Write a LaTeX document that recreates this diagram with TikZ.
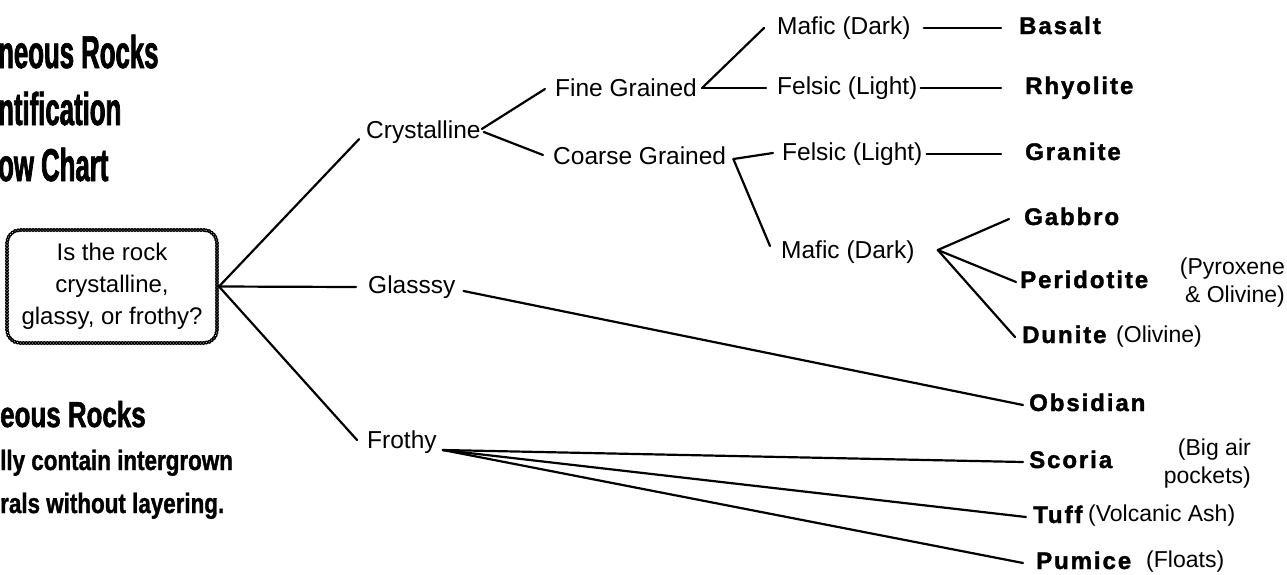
\documentclass[tikz,border=0pt]{standalone}
\usepackage{fontspec}
\setmainfont{Liberation Sans}
\newfontfamily\rockfont[LetterSpace=8,FakeBold=1.6]{Liberation Sans}
\newfontfamily\titlefont[FakeStretch=0.56,FakeBold=1.5]{Liberation Sans}
\newfontfamily\headfont[FakeStretch=0.72,FakeBold=1.5]{Liberation Sans}
\newfontfamily\bodyfont[FakeStretch=0.8,FakeBold=1.2]{Liberation Sans}
\usetikzlibrary{calc}
\tikzset{
  lab/.style={inner sep=0pt, anchor=west, font=\fontsize{24.5}{28}\selectfont, text height=17pt, text depth=5pt},
  rock/.style={inner sep=0pt, anchor=west, font=\rockfont\bfseries\fontsize{24}{28}\selectfont, text height=17pt, text depth=5pt},
  note/.style={inner sep=0pt, font=\fontsize{23}{28}\selectfont},
  conn/.style={line width=2.2pt, line cap=round},
  title/.style={inner sep=0pt, anchor=base west, font=\titlefont\bfseries\fontsize{46}{50}\selectfont},
  head/.style={inner sep=0pt, anchor=base west, font=\headfont\bfseries\fontsize{36}{40}\selectfont},
  body/.style={inner sep=0pt, anchor=base west, font=\bodyfont\bfseries\fontsize{28}{32}\selectfont},
  qbox/.style={draw, rounded corners=13pt, line width=4pt, dash pattern=on 0pt off 3pt, line cap=round,
    postaction={draw=white, line width=1pt, dash pattern=on 0pt off 3pt, line cap=round, rounded corners=13pt},
    inner sep=0pt, minimum width=210pt, minimum height=113pt, align=center,
    font=\fontsize{24}{32}\selectfont}
}
\begin{document}
\begin{tikzpicture}[x=1pt,y=-1pt]
\fill[white] (0,0) rectangle (1287,574);
\useasboundingbox (0,0) rectangle (1287,574);

% left texts
\node[title] (t1) at (-2,68) {neous Rocks};
\node[title] (t2) at (-2,125) {ntification};
\node[title] (t3) at (-2,181) {ow Chart};
\node[head] (h1) at (0,427) {eous Rocks};
\node[body] (b1) at (0,470) {lly contain intergrown};
\node[body] (b2) at (0,513) {rals without layering.};

% question box
\node[qbox] (q) at (112,286.5) {Is the rock\\crystalline,\\glassy, or frothy?};

% level 1
\node[lab] (cry) at (366,132) {Crystalline};
\node[lab] (gla) at (368,287) {Glasssy};
\node[lab] (fro) at (367,442) {Frothy};

% level 2
\node[lab] (fine) at (555,90) {Fine Grained};
\node[lab] (coarse) at (553,158) {Coarse Grained};

% level 3
\node[lab] (maf1) at (777,28) {Mafic (Dark)};
\node[lab] (fel1) at (777,88) {Felsic (Light)};
\node[lab] (fel2) at (782,154) {Felsic (Light)};
\node[lab] (maf2) at (781,252) {Mafic (Dark)};

% rocks
\node[rock] (basalt) at (1019,28) {Basalt};
\node[rock] (rhy) at (1025,88) {Rhyolite};
\node[rock] (granite) at (1025,154) {Granite};
\node[rock] (gabbro) at (1024,219) {Gabbro};
\node[rock] (peri) at (1020,282) {Peridotite};
\node[rock] (dunite) at (1022,337) {Dunite};
\node[rock] (obs) at (1029,405) {Obsidian};
\node[rock] (scoria) at (1029,462) {Scoria};
\node[rock] (tuff) at (1033,517) {Tuff};
\node[rock] (pumice) at (1036,563) {Pumice};

% notes
\node[note, anchor=east, align=right] (npy) at (1285,283) {(Pyroxene\\\& Olivine)};
\node[note, anchor=west] (nol) at (1116,337) {(Olivine)};
\node[note, anchor=east, align=right] (nbig) at (1251,464) {(Big air\\pockets)};
\node[note, anchor=west] (nva) at (1088,516) {(Volcanic Ash)};
\node[note, anchor=west] (nfl) at (1146,562) {(Floats)};

% connectors
\draw[conn] (q.east) -- ([xshift=-7pt,yshift=4pt]cry.south west);
\draw[conn] (q.east) -- ([xshift=-12pt]gla.west);
\draw[conn] (q.east) -- ([xshift=-10pt,yshift=2pt]fro.west);

\draw[conn] ([xshift=1pt,yshift=3pt]cry.east) -- ([xshift=-10pt,yshift=1pt]fine.west);
\draw[conn] ([xshift=3pt]cry.east) -- ([xshift=-10pt,yshift=3pt]coarse.west);

\coordinate (fj) at ($(fine.east)+(5,-2)$);
\draw[conn] (fj) -- ([xshift=-13pt]maf1.west);
\draw[conn] (fj) -- ([xshift=-11pt]fel1.west);

\coordinate (cj) at ($(coarse.east)+(7,1)$);
\draw[conn] (cj) -- ([xshift=-9pt,yshift=1pt]fel2.west);
\draw[conn] (cj) -- ([xshift=-11pt,yshift=6pt]maf2.west);

\draw[conn] ([xshift=13pt]maf1.east) -- ([xshift=-18pt]basalt.west);
\draw[conn] ([xshift=3pt]fel1.east) -- ([xshift=-24pt]rhy.west);
\draw[conn] ([xshift=4pt]fel2.east) -- ([xshift=-24pt]granite.west);

\coordinate (mj) at ($(maf2.east)+(23,-2)$);
\draw[conn] (mj) -- ([xshift=-15pt]gabbro.west);
\draw[conn] (mj) -- ([xshift=-4pt]peri.west);
\draw[conn] (mj) -- ([xshift=-7pt]dunite.west);

\draw[conn] ([xshift=8pt,yshift=-4pt]gla.east) -- ([xshift=-6pt]obs.west);

\coordinate (rj) at ($(fro.east)+(6,8)$);
\draw[conn] (rj) -- ([xshift=-6pt]scoria.west);
\draw[conn] (rj) -- ([xshift=-7pt]tuff.west);
\draw[conn] (rj) -- ([xshift=-13pt]pumice.west);
\end{tikzpicture}
\end{document}
